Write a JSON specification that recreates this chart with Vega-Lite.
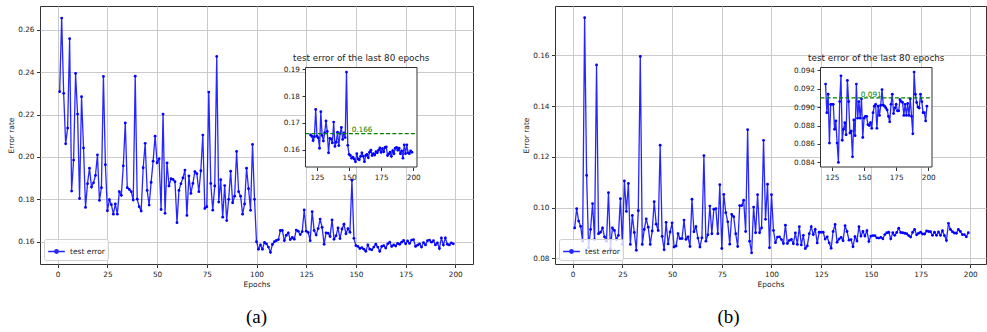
{
"$schema": "https://vega.github.io/schema/vega-lite/v6.json",
"padding": {"left": 7, "top": 5, "right": 0, "bottom": 0},
"datasets": {
"a": [
{"epoch":1,"err":0.2308},{"epoch":2,"err":0.2655},{"epoch":3,"err":0.2300},{"epoch":4,"err":0.2062},{"epoch":5,"err":0.2136},{"epoch":6,"err":0.2558},{"epoch":7,"err":0.1839},{"epoch":8,"err":0.1985},{"epoch":9,"err":0.2394},{"epoch":10,"err":0.2202},
{"epoch":11,"err":0.1804},{"epoch":12,"err":0.2284},{"epoch":13,"err":0.2042},{"epoch":14,"err":0.1762},{"epoch":15,"err":0.1874},{"epoch":16,"err":0.1947},{"epoch":17,"err":0.1858},{"epoch":18,"err":0.1878},{"epoch":19,"err":0.1913},{"epoch":20,"err":0.2010},
{"epoch":21,"err":0.1795},{"epoch":22,"err":0.1855},{"epoch":23,"err":0.2380},{"epoch":24,"err":0.1963},{"epoch":25,"err":0.1746},{"epoch":26,"err":0.1798},{"epoch":27,"err":0.1775},{"epoch":28,"err":0.1730},{"epoch":29,"err":0.1778},{"epoch":30,"err":0.1730},
{"epoch":31,"err":0.1836},{"epoch":32,"err":0.1819},{"epoch":33,"err":0.1958},{"epoch":34,"err":0.2160},{"epoch":35,"err":0.1855},{"epoch":36,"err":0.1847},{"epoch":37,"err":0.1836},{"epoch":38,"err":0.1797},{"epoch":39,"err":0.2381},{"epoch":40,"err":0.1801},
{"epoch":41,"err":0.1765},{"epoch":42,"err":0.1745},{"epoch":43,"err":0.1949},{"epoch":44,"err":0.2064},{"epoch":45,"err":0.1842},{"epoch":46,"err":0.1773},{"epoch":47,"err":0.1880},{"epoch":48,"err":0.1980},{"epoch":49,"err":0.2098},{"epoch":50,"err":0.1973},
{"epoch":51,"err":0.1991},{"epoch":52,"err":0.1752},{"epoch":53,"err":0.2202},{"epoch":54,"err":0.1734},{"epoch":55,"err":0.1972},{"epoch":56,"err":0.1863},{"epoch":57,"err":0.1897},{"epoch":58,"err":0.1894},{"epoch":59,"err":0.1883},{"epoch":60,"err":0.1690},
{"epoch":61,"err":0.1842},{"epoch":62,"err":0.1874},{"epoch":63,"err":0.1901},{"epoch":64,"err":0.1938},{"epoch":65,"err":0.1724},{"epoch":66,"err":0.1910},{"epoch":67,"err":0.1828},{"epoch":68,"err":0.1875},{"epoch":69,"err":0.1931},{"epoch":70,"err":0.1921},
{"epoch":71,"err":0.1836},{"epoch":72,"err":0.1935},{"epoch":73,"err":0.2103},{"epoch":74,"err":0.1757},{"epoch":75,"err":0.1765},{"epoch":76,"err":0.2306},{"epoch":77,"err":0.1875},{"epoch":78,"err":0.1749},{"epoch":79,"err":0.1863},{"epoch":80,"err":0.2474},
{"epoch":81,"err":0.1787},{"epoch":82,"err":0.1893},{"epoch":83,"err":0.1716},{"epoch":84,"err":0.1865},{"epoch":85,"err":0.1700},{"epoch":86,"err":0.1800},{"epoch":87,"err":0.1933},{"epoch":88,"err":0.1784},{"epoch":89,"err":0.1815},{"epoch":90,"err":0.2026},
{"epoch":91,"err":0.1836},{"epoch":92,"err":0.1815},{"epoch":93,"err":0.1730},{"epoch":94,"err":0.1778},{"epoch":95,"err":0.1947},{"epoch":96,"err":0.1850},{"epoch":97,"err":0.1748},{"epoch":98,"err":0.2059},{"epoch":99,"err":0.1800},{"epoch":100,"err":0.1600},
{"epoch":101,"err":0.1565},{"epoch":102,"err":0.1585},{"epoch":103,"err":0.1565},{"epoch":104,"err":0.1597},{"epoch":105,"err":0.1590},{"epoch":106,"err":0.1575},{"epoch":107,"err":0.1550},{"epoch":108,"err":0.1587},{"epoch":109,"err":0.1600},{"epoch":110,"err":0.1606},
{"epoch":111,"err":0.1610},{"epoch":112,"err":0.1653},{"epoch":113,"err":0.1653},{"epoch":114,"err":0.1606},{"epoch":115,"err":0.1631},{"epoch":116,"err":0.1642},{"epoch":117,"err":0.1610},{"epoch":118,"err":0.1620},{"epoch":119,"err":0.1612},{"epoch":120,"err":0.1655},
{"epoch":121,"err":0.1650},{"epoch":122,"err":0.1634},{"epoch":123,"err":0.1648},{"epoch":124,"err":0.1750},{"epoch":125,"err":0.1650},{"epoch":126,"err":0.1644},{"epoch":127,"err":0.1605},{"epoch":128,"err":0.1742},{"epoch":129,"err":0.1653},{"epoch":130,"err":0.1632},
{"epoch":131,"err":0.1662},{"epoch":132,"err":0.1707},{"epoch":133,"err":0.1668},{"epoch":134,"err":0.1588},{"epoch":135,"err":0.1642},{"epoch":136,"err":0.1640},{"epoch":137,"err":0.1625},{"epoch":138,"err":0.1703},{"epoch":139,"err":0.1612},{"epoch":140,"err":0.1628},
{"epoch":141,"err":0.1665},{"epoch":142,"err":0.1615},{"epoch":143,"err":0.1660},{"epoch":144,"err":0.1683},{"epoch":145,"err":0.1638},{"epoch":146,"err":0.1662},{"epoch":147,"err":0.1645},{"epoch":148,"err":0.1890},{"epoch":149,"err":0.1616},{"epoch":150,"err":0.1582},
{"epoch":151,"err":0.1578},{"epoch":152,"err":0.1568},{"epoch":153,"err":0.1572},{"epoch":154,"err":0.1565},{"epoch":155,"err":0.1555},{"epoch":156,"err":0.1585},{"epoch":157,"err":0.1565},{"epoch":158,"err":0.1562},{"epoch":159,"err":0.1575},{"epoch":160,"err":0.1588},
{"epoch":161,"err":0.1575},{"epoch":162,"err":0.1555},{"epoch":163,"err":0.1578},{"epoch":164,"err":0.1582},{"epoch":165,"err":0.1570},{"epoch":166,"err":0.1590},{"epoch":167,"err":0.1598},{"epoch":168,"err":0.1578},{"epoch":169,"err":0.1585},{"epoch":170,"err":0.1580},
{"epoch":171,"err":0.1592},{"epoch":172,"err":0.1588},{"epoch":173,"err":0.1598},{"epoch":174,"err":0.1606},{"epoch":175,"err":0.1590},{"epoch":176,"err":0.1604},{"epoch":177,"err":0.1592},{"epoch":178,"err":0.1608},{"epoch":179,"err":0.1610},{"epoch":180,"err":0.1578},
{"epoch":181,"err":0.1584},{"epoch":182,"err":0.1590},{"epoch":183,"err":0.1575},{"epoch":184,"err":0.1596},{"epoch":185,"err":0.1585},{"epoch":186,"err":0.1605},{"epoch":187,"err":0.1608},{"epoch":188,"err":0.1598},{"epoch":189,"err":0.1605},{"epoch":190,"err":0.1585},
{"epoch":191,"err":0.1595},{"epoch":192,"err":0.1568},{"epoch":193,"err":0.1618},{"epoch":194,"err":0.1585},{"epoch":195,"err":0.1618},{"epoch":196,"err":0.1588},{"epoch":197,"err":0.1585},{"epoch":198,"err":0.1595},{"epoch":199,"err":0.1590}
],
"b": [
{"epoch":1,"err":0.0920},{"epoch":2,"err":0.0996},{"epoch":3,"err":0.0947},{"epoch":4,"err":0.0926},{"epoch":5,"err":0.0868},{"epoch":6,"err":0.1748},{"epoch":7,"err":0.1127},{"epoch":8,"err":0.0842},{"epoch":9,"err":0.0914},{"epoch":10,"err":0.1016},
{"epoch":11,"err":0.0874},{"epoch":12,"err":0.1562},{"epoch":13,"err":0.0897},{"epoch":14,"err":0.0903},{"epoch":15,"err":0.0920},{"epoch":16,"err":0.0885},{"epoch":17,"err":0.0868},{"epoch":18,"err":0.1059},{"epoch":19,"err":0.0838},{"epoch":20,"err":0.0920},
{"epoch":21,"err":0.0910},{"epoch":22,"err":0.0874},{"epoch":23,"err":0.0891},{"epoch":24,"err":0.1035},{"epoch":25,"err":0.0855},{"epoch":26,"err":0.1105},{"epoch":27,"err":0.0985},{"epoch":28,"err":0.1095},{"epoch":29,"err":0.0855},{"epoch":30,"err":0.0969},
{"epoch":31,"err":0.0902},{"epoch":32,"err":0.0832},{"epoch":33,"err":0.0988},{"epoch":34,"err":0.1595},{"epoch":35,"err":0.0855},{"epoch":36,"err":0.0914},{"epoch":37,"err":0.0956},{"epoch":38,"err":0.0923},{"epoch":39,"err":0.0855},{"epoch":40,"err":0.0908},
{"epoch":41,"err":0.1023},{"epoch":42,"err":0.0935},{"epoch":43,"err":0.0910},{"epoch":44,"err":0.1246},{"epoch":45,"err":0.0887},{"epoch":46,"err":0.0834},{"epoch":47,"err":0.0942},{"epoch":48,"err":0.0857},{"epoch":49,"err":0.0904},{"epoch":50,"err":0.0940},
{"epoch":51,"err":0.0845},{"epoch":52,"err":0.0849},{"epoch":53,"err":0.0897},{"epoch":54,"err":0.0878},{"epoch":55,"err":0.0878},{"epoch":56,"err":0.0951},{"epoch":57,"err":0.0875},{"epoch":58,"err":0.0885},{"epoch":59,"err":0.0847},{"epoch":60,"err":0.1033},
{"epoch":61,"err":0.0905},{"epoch":62,"err":0.0925},{"epoch":63,"err":0.0880},{"epoch":64,"err":0.0845},{"epoch":65,"err":0.0881},{"epoch":66,"err":0.1205},{"epoch":67,"err":0.0868},{"epoch":68,"err":0.0893},{"epoch":69,"err":0.1006},{"epoch":70,"err":0.0897},
{"epoch":71,"err":0.0994},{"epoch":72,"err":0.0996},{"epoch":73,"err":0.0897},{"epoch":74,"err":0.1090},{"epoch":75,"err":0.0839},{"epoch":76,"err":0.1052},{"epoch":77,"err":0.0980},{"epoch":78,"err":0.0944},{"epoch":79,"err":0.0856},{"epoch":80,"err":0.0973},
{"epoch":81,"err":0.0964},{"epoch":82,"err":0.0897},{"epoch":83,"err":0.0847},{"epoch":84,"err":0.1008},{"epoch":85,"err":0.1008},{"epoch":86,"err":0.1029},{"epoch":87,"err":0.0906},{"epoch":88,"err":0.1307},{"epoch":89,"err":0.0868},{"epoch":90,"err":0.0822},
{"epoch":91,"err":0.1002},{"epoch":92,"err":0.0901},{"epoch":93,"err":0.1051},{"epoch":94,"err":0.0901},{"epoch":95,"err":0.0920},{"epoch":96,"err":0.1265},{"epoch":97,"err":0.0954},{"epoch":98,"err":0.1092},{"epoch":99,"err":0.0842},{"epoch":100,"err":0.1051},
{"epoch":101,"err":0.0910},{"epoch":102,"err":0.0862},{"epoch":103,"err":0.0884},{"epoch":104,"err":0.0885},{"epoch":105,"err":0.0874},{"epoch":106,"err":0.0859},{"epoch":107,"err":0.0931},{"epoch":108,"err":0.0859},{"epoch":109,"err":0.0871},{"epoch":110,"err":0.0875},
{"epoch":111,"err":0.0858},{"epoch":112,"err":0.0900},{"epoch":113,"err":0.0855},{"epoch":114,"err":0.0925},{"epoch":115,"err":0.0853},{"epoch":116,"err":0.0891},{"epoch":117,"err":0.0839},{"epoch":118,"err":0.0849},{"epoch":119,"err":0.0897},{"epoch":120,"err":0.0925},
{"epoch":121,"err":0.0894},{"epoch":122,"err":0.0914},{"epoch":123,"err":0.0861},{"epoch":124,"err":0.0903},{"epoch":125,"err":0.0903},{"epoch":126,"err":0.0903},{"epoch":127,"err":0.0876},{"epoch":128,"err":0.0885},{"epoch":129,"err":0.0861},{"epoch":130,"err":0.0840},
{"epoch":131,"err":0.0906},{"epoch":132,"err":0.0934},{"epoch":133,"err":0.0864},{"epoch":134,"err":0.0876},{"epoch":135,"err":0.0883},{"epoch":136,"err":0.0870},{"epoch":137,"err":0.0929},{"epoch":138,"err":0.0906},{"epoch":139,"err":0.0872},{"epoch":140,"err":0.0874},
{"epoch":141,"err":0.0846},{"epoch":142,"err":0.0886},{"epoch":143,"err":0.0869},{"epoch":144,"err":0.0925},{"epoch":145,"err":0.0888},{"epoch":146,"err":0.0906},{"epoch":147,"err":0.0888},{"epoch":148,"err":0.0909},{"epoch":149,"err":0.0867},{"epoch":150,"err":0.0888},
{"epoch":151,"err":0.0890},{"epoch":152,"err":0.0890},{"epoch":153,"err":0.0881},{"epoch":154,"err":0.0880},{"epoch":155,"err":0.0883},{"epoch":156,"err":0.0877},{"epoch":157,"err":0.0894},{"epoch":158,"err":0.0901},{"epoch":159,"err":0.0903},{"epoch":160,"err":0.0877},
{"epoch":161,"err":0.0901},{"epoch":162,"err":0.0891},{"epoch":163,"err":0.0902},{"epoch":164,"err":0.0919},{"epoch":165,"err":0.0902},{"epoch":166,"err":0.0901},{"epoch":167,"err":0.0899},{"epoch":168,"err":0.0897},{"epoch":169,"err":0.0890},{"epoch":170,"err":0.0884},
{"epoch":171,"err":0.0903},{"epoch":172,"err":0.0914},{"epoch":173,"err":0.0893},{"epoch":174,"err":0.0899},{"epoch":175,"err":0.0903},{"epoch":176,"err":0.0896},{"epoch":177,"err":0.0896},{"epoch":178,"err":0.0908},{"epoch":179,"err":0.0906},{"epoch":180,"err":0.0905},
{"epoch":181,"err":0.0891},{"epoch":182,"err":0.0903},{"epoch":183,"err":0.0891},{"epoch":184,"err":0.0904},{"epoch":185,"err":0.0891},{"epoch":186,"err":0.0909},{"epoch":187,"err":0.0890},{"epoch":188,"err":0.0871},{"epoch":189,"err":0.0938},{"epoch":190,"err":0.0914},
{"epoch":191,"err":0.0905},{"epoch":192,"err":0.0900},{"epoch":193,"err":0.0899},{"epoch":194,"err":0.0914},{"epoch":195,"err":0.0906},{"epoch":196,"err":0.0894},{"epoch":197,"err":0.0894},{"epoch":198,"err":0.0885},{"epoch":199,"err":0.0901}
]
},
"hconcat": [
{
"width": 433, "height": 258,
"title": {"text": "(a)", "orient": "bottom", "anchor": "middle", "font": "Liberation Serif", "fontSize": 19, "fontWeight": "normal", "color": "#000", "offset": 20},
"layer": [
{
"data": {"name": "a"},
"mark": {"type": "line", "color": "#0000ff", "strokeWidth": 1.3, "opacity": 0.85, "point": {"filled": true, "size": 8, "color": "#0000ff", "opacity": 1}},
"encoding": {
"x": {"field": "epoch", "type": "quantitative", "scale": {"domain": [-8.9, 208.9], "nice": false, "zero": false}, "axis": {"title": "Epochs", "values": [0,25,50,75,100,125,150,175,200], "grid": true}},
"y": {"field": "err", "type": "quantitative", "scale": {"domain": [0.1495, 0.2712], "nice": false, "zero": false}, "axis": {"title": "Error rate", "values": [0.16,0.18,0.2,0.22,0.24,0.26], "format": ".2f", "grid": true, "titlePadding": 2}},
"color": {"datum": "test error", "scale": {"range": ["#0000ff"]}, "legend": {"title": null}}
}
},
{
"layer": [
{
"data": {"values": [{}]},
"mark": {"type": "rect", "fill": "white", "stroke": "#333", "strokeWidth": 1},
"encoding": {
"x": {"datum": 116.05, "type": "quantitative"},
"x2": {"datum": 202.95},
"y": {"datum": 0.1535, "type": "quantitative"},
"y2": {"datum": 0.1907}
}
},
{
"data": {"name": "a"},
"transform": [{"filter": "datum.epoch >= 120"}],
"mark": {"type": "line", "color": "#0000ff", "strokeWidth": 1.3, "opacity": 0.85, "point": {"filled": true, "size": 8, "color": "#0000ff", "opacity": 1}},
"encoding": {
"x": {"field": "epoch", "type": "quantitative", "scale": {"domain": [116.05, 202.95], "range": [265.5, 377], "nice": false, "zero": false}, "axis": {"orient": "bottom", "offset": -97, "title": null, "values": [125,150,175,200], "grid": false}},
"y": {"field": "err", "type": "quantitative", "scale": {"domain": [0.1535, 0.1907], "range": [161, 61.5], "nice": false, "zero": false}, "axis": {"orient": "left", "offset": -265.5, "title": null, "values": [0.16,0.17,0.18,0.19], "format": ".2f", "grid": false}}
}
},
{
"data": {"values": [{}]},
"mark": {"type": "rule", "stroke": "#008000", "strokeDash": [4, 2.2], "strokeWidth": 1.2},
"encoding": {
"x": {"datum": 116.05, "type": "quantitative"},
"x2": {"datum": 202.95},
"y": {"datum": 0.166, "type": "quantitative"}
}
},
{
"data": {"values": [{}]},
"mark": {"type": "text", "text": "0.166", "color": "#008000", "align": "left", "baseline": "alphabetic", "dy": -1.5, "fontSize": 7.3},
"encoding": {
"x": {"datum": 152, "type": "quantitative"},
"y": {"datum": 0.166, "type": "quantitative"}
}
},
{
"data": {"values": [{}]},
"mark": {"type": "text", "text": "test error of the last 80 epochs", "color": "#222", "align": "center", "baseline": "alphabetic", "dy": -6.5, "fontSize": 8.8},
"encoding": {
"x": {"datum": 159.5, "type": "quantitative"},
"y": {"datum": 0.1907, "type": "quantitative"}
}
}
]
}
],
"resolve": {"scale": {"x": "independent", "y": "independent"}}
},
{
"width": 431, "height": 258,
"title": {"text": "(b)", "orient": "bottom", "anchor": "middle", "font": "Liberation Serif", "fontSize": 19, "fontWeight": "normal", "color": "#000", "offset": 20, "dx": -42},
"layer": [
{
"data": {"name": "b"},
"mark": {"type": "line", "color": "#0000ff", "strokeWidth": 1.3, "opacity": 0.85, "point": {"filled": true, "size": 8, "color": "#0000ff", "opacity": 1}},
"encoding": {
"x": {"field": "epoch", "type": "quantitative", "scale": {"domain": [-8.9, 207.9], "nice": false, "zero": false}, "axis": {"title": "Epochs", "values": [0,25,50,75,100,125,150,175,200], "grid": true}},
"y": {"field": "err", "type": "quantitative", "scale": {"domain": [0.0778, 0.1794], "nice": false, "zero": false}, "axis": {"title": "Error rate", "values": [0.08,0.1,0.12,0.14,0.16], "format": ".2f", "grid": true, "titlePadding": 2}},
"color": {"datum": "test error", "scale": {"range": ["#0000ff"]}, "legend": {"title": null}}
}
},
{
"layer": [
{
"data": {"values": [{}]},
"mark": {"type": "rect", "fill": "white", "stroke": "#333", "strokeWidth": 1},
"encoding": {
"x": {"datum": 116.05, "type": "quantitative"},
"x2": {"datum": 202.95},
"y": {"datum": 0.0835, "type": "quantitative"},
"y2": {"datum": 0.0943}
}
},
{
"data": {"name": "b"},
"transform": [{"filter": "datum.epoch >= 120"}],
"mark": {"type": "line", "color": "#0000ff", "strokeWidth": 1.3, "opacity": 0.85, "point": {"filled": true, "size": 8, "color": "#0000ff", "opacity": 1}},
"encoding": {
"x": {"field": "epoch", "type": "quantitative", "scale": {"domain": [116.05, 202.95], "range": [265.5, 377], "nice": false, "zero": false}, "axis": {"orient": "bottom", "offset": -97, "title": null, "values": [125,150,175,200], "grid": false}},
"y": {"field": "err", "type": "quantitative", "scale": {"domain": [0.0835, 0.0943], "range": [161, 61.5], "nice": false, "zero": false}, "axis": {"orient": "left", "offset": -265.5, "title": null, "values": [0.084,0.086,0.088,0.09,0.092,0.094], "format": ".3f", "grid": false}}
}
},
{
"data": {"values": [{}]},
"mark": {"type": "rule", "stroke": "#008000", "strokeDash": [4, 2.2], "strokeWidth": 1.2},
"encoding": {
"x": {"datum": 116.05, "type": "quantitative"},
"x2": {"datum": 202.95},
"y": {"datum": 0.091, "type": "quantitative"}
}
},
{
"data": {"values": [{}]},
"mark": {"type": "text", "text": "0.091", "color": "#008000", "align": "left", "baseline": "alphabetic", "dy": -1, "fontSize": 7.3},
"encoding": {
"x": {"datum": 147.5, "type": "quantitative"},
"y": {"datum": 0.091, "type": "quantitative"}
}
},
{
"data": {"values": [{}]},
"mark": {"type": "text", "text": "test error of the last 80 epochs", "color": "#222", "align": "center", "baseline": "alphabetic", "dy": -6.5, "fontSize": 8.8},
"encoding": {
"x": {"datum": 159.5, "type": "quantitative"},
"y": {"datum": 0.0943, "type": "quantitative"}
}
}
]
}
],
"resolve": {"scale": {"x": "independent", "y": "independent"}}
}
],
"spacing": 48,
"resolve": {"scale": {"color": "independent"}, "legend": {"color": "independent"}},
"config": {
"font": "DejaVu Sans",
"view": {"stroke": "#333", "strokeWidth": 1},
"axis": {"labelFont": "DejaVu Sans", "labelFontSize": 7.3, "labelColor": "#222", "titleFont": "DejaVu Sans", "titleFontSize": 7.5, "titleColor": "#222", "titleFontWeight": "normal", "tickColor": "#333", "tickSize": 3.5, "labelPadding": 2.5, "domain": false, "gridColor": "#cbcbcb", "gridWidth": 1, "titlePadding": 3},
"legend": {"orient": "bottom-left", "offset": 4, "padding": 3, "fillColor": "rgba(255,255,255,0.8)", "strokeColor": "#d0d0d0", "cornerRadius": 2, "labelFont": "DejaVu Sans", "labelFontSize": 7.5, "labelColor": "#222", "symbolType": "M-1,0L1,0M0.2,0A0.2,0.2,0,1,1,-0.2,0A0.2,0.2,0,1,1,0.2,0", "symbolSize": 280, "symbolStrokeWidth": 1.5, "symbolFillColor": "#0000ff", "symbolStrokeColor": "#0000ff"}
}
}
